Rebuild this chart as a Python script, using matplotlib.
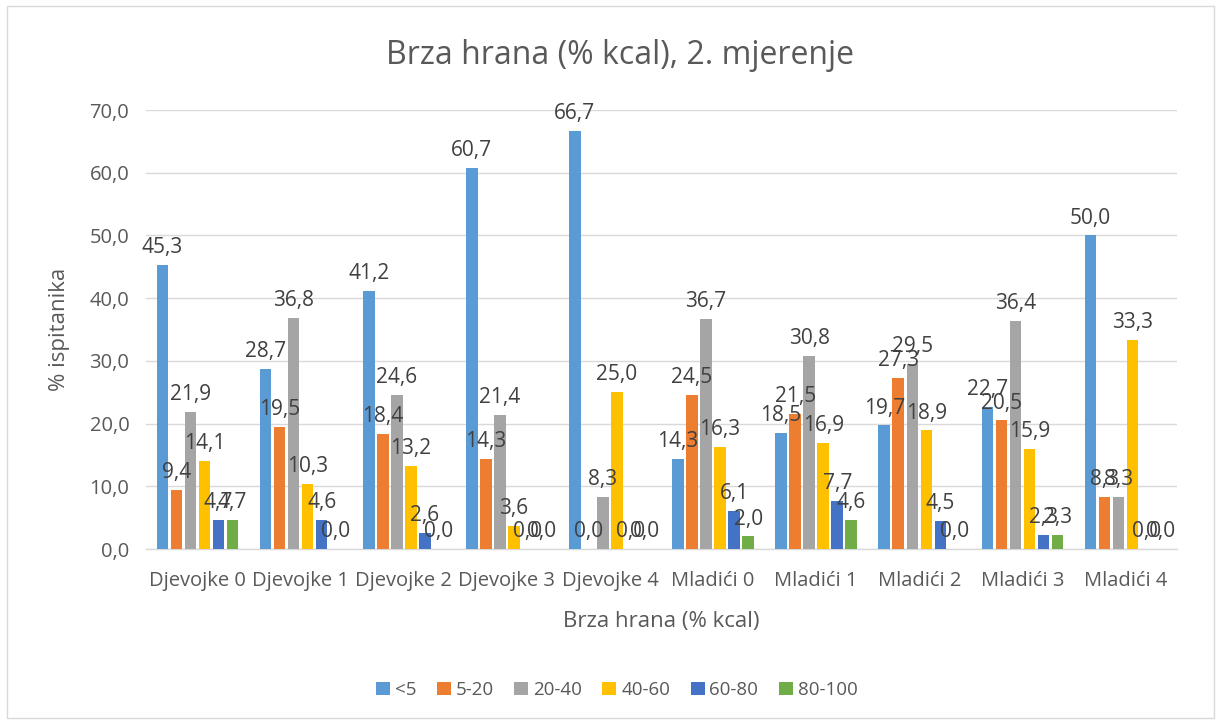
import numpy as np
import matplotlib
matplotlib.use("Agg")
from matplotlib import pyplot as plt
from matplotlib.patches import Rectangle

plt.rcParams['font.family'] = ['Open Sans', 'DejaVu Sans']

categories = ["Djevojke 0", "Djevojke 1", "Djevojke 2", "Djevojke 3", "Djevojke 4",
              "Mladići 0", "Mladići 1", "Mladići 2", "Mladići 3", "Mladići 4"]
series_names = ["<5", "5-20", "20-40", "40-60", "60-80", "80-100"]

lt5 = [45.3, 28.7, 41.2, 60.7, 66.7, 14.3, 18.5, 19.7, 22.7, 50.0]
s5_20 = [9.4, 19.5, 18.4, 14.3, 0.0, 24.5, 21.5, 27.3, 20.5, 8.3]
s20_40 = [21.9, 36.8, 24.6, 21.4, 8.3, 36.7, 30.8, 29.5, 36.4, 8.3]
s40_60 = [14.1, 10.3, 13.2, 3.6, 25.0, 16.3, 16.9, 18.9, 15.9, 33.3]
s60_80 = [4.7, 4.6, 2.6, 0.0, 0.0, 6.1, 7.7, 4.5, 2.3, 0.0]
s80_100 = [4.7, 0.0, 0.0, 0.0, 0.0, 2.0, 4.6, 0.0, 2.3, 0.0]

colors = ["#5B9BD5", "#ED7D31", "#A5A5A5", "#FFC000", "#4472C4", "#70AD47"]

all_series = [lt5, s5_20, s20_40, s40_60, s60_80, s80_100]

fig = plt.figure(figsize=(12.21, 7.24), dpi=100)
ax = fig.add_axes([0.1196, 0.2417, 0.8444, 0.6063])

# chart area border
fig.patches.append(Rectangle((0.006, 0.008), 0.988, 0.984, transform=fig.transFigure,
                             fill=False, edgecolor="#D9D9D9", linewidth=1))

x = np.arange(len(categories))
step = 0.136
width = 0.112
label_color = "#404040"

for i, (vals, name, col) in enumerate(zip(all_series, series_names, colors)):
    pos = x + (i - 2.5) * step
    bars = ax.bar(pos, vals, width=width, color=col, label=name, zorder=3)
    for b, v in zip(bars, vals):
        ax.annotate(f"{v:.1f}".replace(".", ","), (b.get_x() + b.get_width() / 2, v),
                    xytext=(0, 5), textcoords="offset points", ha="center", va="bottom",
                    fontsize=15, color=label_color, zorder=4)

ax.set_xlim(-0.5, len(categories) - 0.5)
ax.set_ylim(0, 70)
ax.set_yticks(np.arange(0, 71, 10))
ax.set_yticklabels([f"{t:.1f}".replace(".", ",") for t in np.arange(0, 71, 10)])
ax.set_xticks(x)
ax.set_xticklabels(categories)
ax.tick_params(axis="both", length=0, labelsize=14.5, colors="#595959")
ax.tick_params(axis="y", pad=12)
ax.tick_params(axis="x", pad=16)
ax.grid(axis="y", color="#D9D9D9", linewidth=1, zorder=0)
for side in ["top", "right", "left"]:
    ax.spines[side].set_visible(False)
ax.spines["bottom"].set_color("#D9D9D9")
ax.spines["bottom"].set_linewidth(1)

ax.set_ylabel("% ispitanika", fontsize=16, color="#595959", labelpad=14)
ax.set_xlabel("Brza hrana (% kcal)", fontsize=16, color="#595959", labelpad=14)

fig.text(0.508, 0.924, "Brza hrana (% kcal), 2. mjerenje", ha="center", va="center",
         fontsize=23, color="#595959")

fig.legend(loc="center", bbox_to_anchor=(0.505, 0.047), ncol=6, frameon=False,
           fontsize=13.5, handlelength=0.75, handleheight=0.75, handletextpad=0.25,
           columnspacing=1.1, labelcolor="#595959")

fig.savefig("out.png", dpi=100)
